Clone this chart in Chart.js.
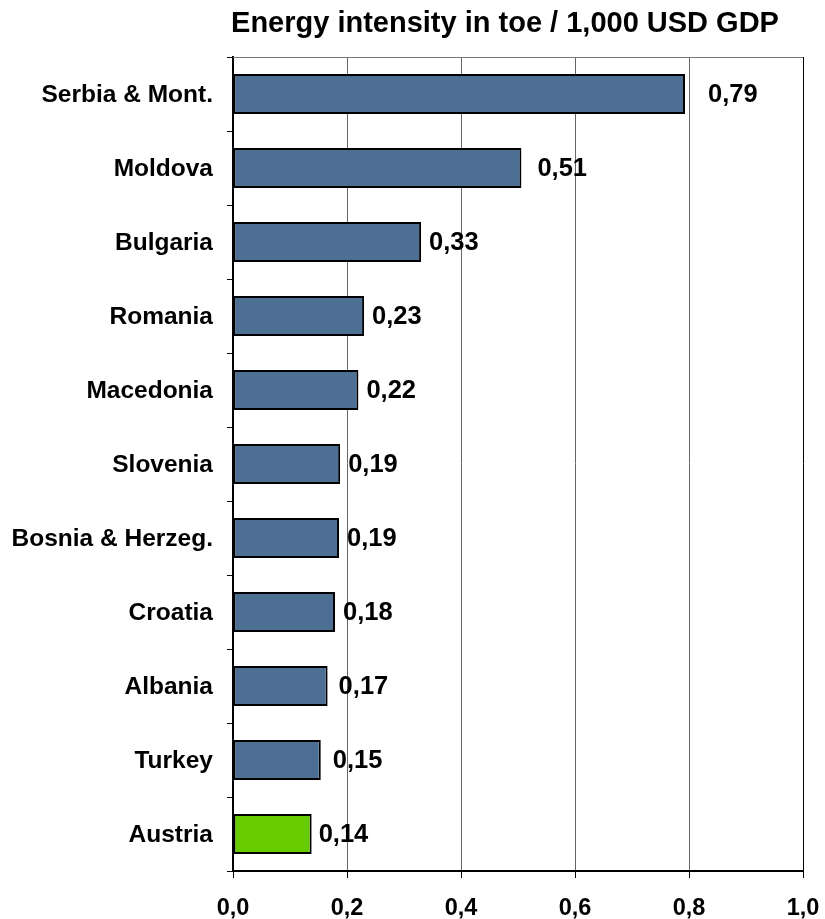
<!DOCTYPE html>
<html>
<head>
<meta charset="utf-8">
<script src="https://cdn.jsdelivr.net/npm/chart.js@4/dist/chart.umd.min.js"></script>
<style>
  html, body { margin: 0; padding: 0; background: #fff; }
  #wrap { width: 825px; height: 919px; }
</style>
</head>
<body>
<div id="wrap"><canvas id="c" width="825" height="919"></canvas></div>
<script>
const titleText = "Energy intensity in toe / 1,000 USD GDP";
const categories = ["Serbia & Mont.", "Moldova", "Bulgaria", "Romania", "Macedonia", "Slovenia",
  "Bosnia & Herzeg.", "Croatia", "Albania", "Turkey", "Austria"];
const intensity = [0.793, 0.506, 0.330, 0.230, 0.220, 0.188, 0.186, 0.179, 0.166, 0.154, 0.138];
const highlighted = ["Austria"];
const xTicks = [0, 0.2, 0.4, 0.6, 0.8, 1.0];

const FONT = "'Liberation Sans', Arial, sans-serif";
const fmt = (v, d) => (Math.round(v * Math.pow(10, d)) / Math.pow(10, d)).toFixed(d).replace('.', ',');

const titlePlugin = {
  id: 'customTitle',
  afterDraw(chart, args, opts) {
    const ctx = chart.ctx;
    ctx.save();
    ctx.font = "bold 29px " + FONT;
    ctx.fillStyle = '#000';
    ctx.textAlign = 'center';
    ctx.textBaseline = 'alphabetic';
    ctx.fillText(titleText, opts.x, opts.y);
    const a = chart.chartArea;
    ctx.strokeStyle = '#777';
    ctx.lineWidth = 1;
    ctx.beginPath();
    ctx.moveTo(a.left, a.top + 0.5);
    ctx.lineTo(a.right, a.top + 0.5);
    ctx.stroke();
    ctx.restore();
  }
};

const valueLabelPlugin = {
  id: 'valueLabels',
  afterDatasetsDraw(chart, args, opts) {
    const ctx = chart.ctx;
    const meta = chart.getDatasetMeta(0);
    ctx.save();
    ctx.font = "bold 25.5px " + FONT;
    ctx.fillStyle = '#000';
    ctx.textAlign = 'left';
    ctx.textBaseline = 'middle';
    meta.data.forEach((bar, i) => {
      const gap = opts.gaps[i] ?? 8;
      ctx.fillText(fmt(intensity[i], 2), bar.x + gap, bar.y + 1);
    });
    ctx.restore();
  }
};

new Chart(document.getElementById('c'), {
  type: 'bar',
  data: {
    labels: categories,
    datasets: [{
      data: intensity,
      backgroundColor: categories.map(c => highlighted.includes(c) ? '#66CC00' : '#4E6F94'),
      borderColor: '#000',
      borderWidth: 2,
      borderSkipped: false,
      categoryPercentage: 1,
      barPercentage: 0.54
    }]
  },
  options: {
    indexAxis: 'y',
    responsive: false,
    animation: false,
    devicePixelRatio: 1,
    layout: { padding: { top: 57, right: 22, bottom: 0, left: 0 } },
    plugins: {
      legend: { display: false },
      tooltip: { enabled: false },
      title: { display: false },
      customTitle: { x: 505, y: 32 },
      valueLabels: { gaps: [23, 16, 8, 8, 8, 8, 8, 8, 11, 12, 7] }
    },
    scales: {
      x: {
        type: 'linear',
        min: 0,
        max: 1,
        afterBuildTicks: s => { s.ticks = xTicks.map(v => ({ value: v })); },
        afterFit: s => { s.height = 48; s.paddingLeft = 0; s.paddingRight = 0; },
        grid: {
          color: ctx => (ctx.tick && ctx.tick.value === 1) ? '#000' : '#666',
          lineWidth: 1,
          drawTicks: true,
          tickLength: 7,
          tickColor: '#000'
        },
        border: { display: true, color: '#000', width: 2 },
        ticks: {
          padding: 16,
          color: '#000',
          font: { family: FONT, size: 23.5, weight: 'bold' },
          callback: v => fmt(v, 1)
        }
      },
      y: {
        afterFit: s => { s.width = 233; s.paddingTop = 0; s.paddingBottom = 0; },
        grid: {
          offset: true,
          drawOnChartArea: false,
          drawTicks: true,
          tickLength: 6,
          tickColor: '#000',
          lineWidth: 1
        },
        border: { display: true, color: '#000', width: 2 },
        ticks: {
          padding: 14,
          labelOffset: 1.5,
          color: '#000',
          font: { family: FONT, size: 24.5, weight: 'bold' }
        }
      }
    }
  },
  plugins: [titlePlugin, valueLabelPlugin]
});
</script>
</body>
</html>
